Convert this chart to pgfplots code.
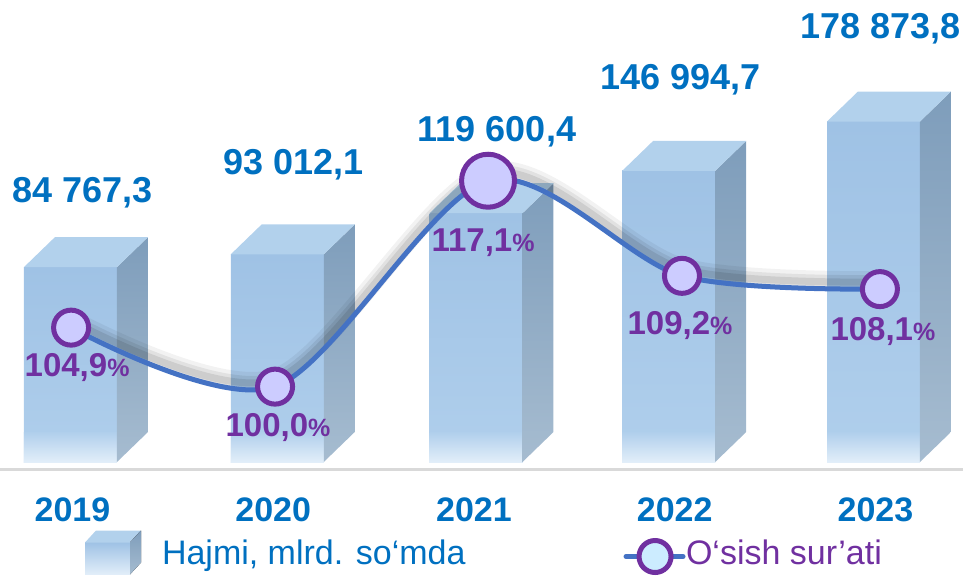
\documentclass[border=0pt]{standalone}
\usepackage{fontspec}
\setmainfont{Liberation Sans}
\usepackage{pgfplots}
\usepackage{pgfplotstable}
\pgfplotsset{compat=1.18}

\definecolor{valblue}{HTML}{0070C0}
\definecolor{pctpurple}{HTML}{7030A0}
\definecolor{lineblue}{HTML}{4472C4}
\definecolor{mkfill}{HTML}{CCCCFF}
\definecolor{legfill}{HTML}{CCECFF}
\definecolor{fronttop}{HTML}{9FC2E5}
\definecolor{frontlow}{HTML}{B0CFEC}
\definecolor{frontbot}{HTML}{E2EEF9}
\definecolor{topface}{HTML}{B2D1EC}
\definecolor{sidetop}{HTML}{7E9DBB}
\definecolor{sidebot}{HTML}{A6BCD0}
\definecolor{baseln}{HTML}{D9D9D9}

\pgfdeclareverticalshading{frontsh}{100bp}{color(0bp)=(frontlow); color(25bp)=(frontlow); color(75bp)=(fronttop); color(100bp)=(fronttop)}

% corner templates of a 3D bar: x offset, factor of value, constant
\pgfplotstableread{
dx a b
-0.2316 0 -41220
0.2316 0 -41220
0.2316 1 0
-0.2316 1 0
}\frontface
\pgfplotstableread{
dx a b
-0.2316 0 -41220
0.2316 0 -41220
0.2316 0 -21828
-0.2316 0 -21828
}\fadeface
\pgfplotstableread{
dx a b
-0.2316 1 0
0.2316 1 0
0.3860 1 19392
-0.0772 1 19392
}\topface
\pgfplotstableread{
dx a b
0.2316 0 -41220
0.2316 1 0
0.3860 1 19392
0.3860 0 -21828
}\sideface

\newcommand\threedbar[2]{%
  \addplot[forget plot, draw=none, shade, shading=frontsh]
    table[x expr=#1+\thisrow{dx}, y expr=\thisrow{a}*#2+\thisrow{b}] {\frontface};
  \addplot[forget plot, draw=none, top color=frontlow, bottom color=frontbot]
    table[x expr=#1+\thisrow{dx}, y expr=\thisrow{a}*#2+\thisrow{b}] {\fadeface};
  \addplot[forget plot, draw=none, top color=sidetop, bottom color=sidebot]
    table[x expr=#1+\thisrow{dx}, y expr=\thisrow{a}*#2+\thisrow{b}] {\sideface};
  \addplot[forget plot, draw=none, fill=topface]
    table[x expr=#1+\thisrow{dx}, y expr=\thisrow{a}*#2+\thisrow{b}] {\topface};
}

% volume, mlrd. so'm
\pgfplotstableread[col sep=semicolon]{
x;v;dx;dy;lab
-0.01;84767.3;12;74;84 767,3
1.02;93012.1;16;90;93 012,1
2.01;119600.4;21;81;119 600,4
2.97;146994.7;12;91;146 994,7
3.99;178873.8;7;93;178 873,8
}\volume

% growth rate, %
\pgfplotstableread{
x p dx dy lab
-0.007 104.9 6 40 104,9
1.009 100.0 3 41 100,0
2.070 117.1 -5 62 117,1
3.036 109.2 -2 50 109,2
4.022 108.1 3 42 108,1
}\growth

\begin{document}
\begin{tikzpicture}
\begin{axis}[
  name=main,
  at={(0,0)}, anchor=south west,
  width=963pt, height=575pt, scale only axis,
  xmin=-0.3611, xmax=4.4359,
  ymin=-114265, ymax=257422,
  clip=false,
  axis line style={draw=none},
  ytick=\empty,
  xtick={0,1,2,3,4},
  xticklabels={2019,2020,2021,2022,2023},
  major tick length=0pt,
  xticklabel style={anchor=center, yshift=65pt, text=valblue,
    font=\fontsize{34}{40}\selectfont\bfseries},
  extra y ticks={-45745},
  extra y tick labels={},
  extra y tick style={ymajorgrids=true, major grid style={draw=baseln, line width=3pt}},
  legend columns=2,
  legend style={draw=none, fill=none, at={(rel axis cs:0,0)}, anchor=south west,
    xshift=85pt, yshift=0pt, inner sep=0pt, outer sep=0pt,
    nodes={inner sep=0pt, font=\fontsize{34}{40}\selectfont},
    /tikz/every even column/.append style={column sep=158pt}},
  legend cell align=left,
]
\threedbar{-0.01}{84767.3}
\threedbar{1.02}{93012.1}
\threedbar{2.01}{119600.4}
\threedbar{2.97}{146994.7}
\threedbar{3.99}{178873.8}

\addplot[forget plot, draw=none, mark=none, nodes near coords, point meta=explicit symbolic,
  visualization depends on={\thisrow{dx}\as\ldx},
  visualization depends on={\thisrow{dy}\as\ldy},
  every node near coord/.append style={anchor=center, xshift=\ldx pt, yshift=\ldy pt,
    text=valblue, font=\fontsize{36}{40}\selectfont\bfseries}]
  table[x=x, y=v, meta=lab] {\volume};

\addlegendimage{draw=none, legend image code/.code={
  \fill[draw=none, top color=fronttop, bottom color=frontbot] (0pt,-22pt) rectangle (45pt,10pt);
  \fill[draw=none, topface] (0pt,10pt) -- (45pt,10pt) -- (56pt,22pt) -- (11pt,22pt) -- cycle;
  \fill[draw=none, top color=sidetop, bottom color=sidebot] (45pt,-22pt) -- (45pt,10pt) -- (56pt,22pt) -- (56pt,-10pt) -- cycle;
  \path[draw=none] (0pt,0pt) -- (77pt,0pt);
}}
\addlegendentry{\textcolor{valblue}{Hajmi, mlrd. so‘mda}}
\addlegendimage{draw=none, legend image code/.code={
  \draw[lineblue, line width=5pt, line cap=round] (0pt,-4pt) -- (57pt,-4pt);
  \draw[pctpurple, fill=legfill, line width=5pt] (29pt,-4pt) circle (16pt);
  \path[draw=none] (0pt,0pt) -- (60pt,0pt);
}}
\addlegendentry{\textcolor{pctpurple}{O‘sish sur’ati}}
\end{axis}

\begin{axis}[
  at={(0,0)}, anchor=south west,
  width=963pt, height=575pt, scale only axis,
  xmin=-0.3611, xmax=4.4359,
  ymin=84.355, ymax=132.11,
  clip=false,
  hide axis,
]
% shadow of the line
\addplot[smooth, black, opacity=0.05, line width=18pt, yshift=9pt] table[x=x, y=p] {\growth};
\addplot[smooth, black, opacity=0.07, line width=12pt, yshift=8pt] table[x=x, y=p] {\growth};
\addplot[smooth, black, opacity=0.09, line width=7pt, yshift=7pt] table[x=x, y=p] {\growth};
% line
\addplot[smooth, lineblue, line width=5pt] table[x=x, y=p] {\growth};
% markers
\addplot[only marks, mark=*, mark size=17.5pt,
  mark options={fill=mkfill, draw=pctpurple, line width=5pt}]
  coordinates {(-0.007,104.9) (1.009,100.0) (3.036,109.2) (4.022,108.1)};
\addplot[only marks, mark=*, mark size=26.5pt,
  mark options={fill=mkfill, draw=pctpurple, line width=5pt}]
  coordinates {(2.070,117.1)};
% labels
\addplot[draw=none, mark=none, nodes near coords, point meta=explicit symbolic,
  visualization depends on={\thisrow{dx}\as\ldx},
  visualization depends on={\thisrow{dy}\as\ldy},
  nodes near coords={\pgfplotspointmeta{\fontsize{25}{25}\selectfont\%}},
  every node near coord/.append style={anchor=center, xshift=\ldx pt, yshift=-\ldy pt,
    text=pctpurple, font=\fontsize{33}{38}\selectfont\bfseries}]
  table[x=x, y=p, meta=lab] {\growth};
\end{axis}
\pgfresetboundingbox
\useasboundingbox (main.south west) rectangle (main.north east);
\end{tikzpicture}
\end{document}
